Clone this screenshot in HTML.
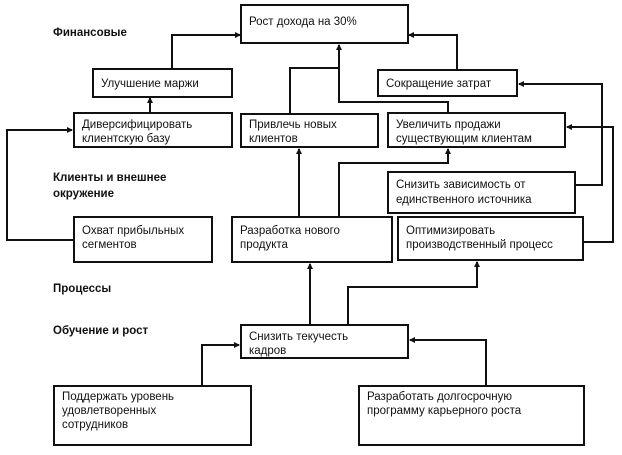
<!DOCTYPE html>
<html><head><meta charset="utf-8"><style>
html,body{margin:0;padding:0;background:#fff;}
svg{display:block}
text{font-family:"Liberation Sans","DejaVu Sans",sans-serif;font-size:11.5px;fill:#111;}
.b{font-weight:bold;}
rect{fill:#fff;stroke:#111;stroke-width:2;}
path{fill:none;stroke:#111;stroke-width:2;}
</style></head><body>
<svg width="622" height="455" viewBox="0 0 622 455">
<defs><marker id="a" markerWidth="6" markerHeight="6" refX="5" refY="3" orient="auto" markerUnits="userSpaceOnUse"><path d="M0,0 L6,3 L0,6 z" style="fill:#111;stroke:none"/></marker></defs>
<!-- connectors -->
<path d="M172,69 V35 H240" marker-end="url(#a)"/>
<path d="M457,70 V35 H409" marker-end="url(#a)"/>
<path d="M150,113 V98" marker-end="url(#a)"/>
<path d="M290,114 V68 H339 V45" marker-end="url(#a)"/>
<path d="M448,113 V102 H339 V68"/>
<path d="M74,240 H7 V130 H72" marker-end="url(#a)"/>
<path d="M299,217 V149" marker-end="url(#a)"/>
<path d="M339,217 V163 H448 V149" marker-end="url(#a)"/>
<path d="M575,185 H602 V84 H519" marker-end="url(#a)"/>
<path d="M583,242 H613 V127 H567" marker-end="url(#a)"/>
<path d="M310,325 V264" marker-end="url(#a)"/>
<path d="M348,325 V287 H477 V262" marker-end="url(#a)"/>
<path d="M202,386 V345 H239" marker-end="url(#a)"/>
<path d="M486,386 V340 H410" marker-end="url(#a)"/>
<!-- boxes -->
<rect x="241" y="5" width="167" height="38"/>
<rect x="93" y="69" width="139" height="28"/>
<rect x="378" y="70" width="139" height="26"/>
<rect x="74" y="113" width="158" height="34"/>
<rect x="241" y="114" width="137" height="33"/>
<rect x="388" y="113" width="177" height="34"/>
<rect x="388" y="172" width="187" height="41"/>
<rect x="74" y="217" width="138" height="45"/>
<rect x="232" y="217" width="160" height="45"/>
<rect x="398" y="217" width="185" height="43"/>
<rect x="241" y="325" width="167" height="33"/>
<rect x="54" y="386" width="197" height="59"/>
<rect x="359" y="386" width="225" height="59"/>
<!-- labels -->
<text class="b" x="53" y="36">Финансовые</text>
<text class="b" x="53" y="181">Клиенты и внешнее</text>
<text class="b" x="53" y="197">окружение</text>
<text class="b" x="53" y="292">Процессы</text>
<text class="b" x="53" y="334">Обучение и рост</text>
<text x="249" y="25">Рост дохода на 30%</text>
<text x="101" y="87">Улучшение маржи</text>
<text x="386" y="87">Сокращение затрат</text>
<text x="82" y="128">Диверсифицировать</text>
<text x="82" y="142">клиентскую базу</text>
<text x="249" y="128">Привлечь новых</text>
<text x="249" y="142">клиентов</text>
<text x="396" y="128">Увеличить продажи</text>
<text x="396" y="142">существующим клиентам</text>
<text x="396" y="188">Снизить зависимость от</text>
<text x="396" y="203">единственного источника</text>
<text x="82" y="234">Охват прибыльных</text>
<text x="82" y="248">сегментов</text>
<text x="240" y="234">Разработка нового</text>
<text x="240" y="248">продукта</text>
<text x="406" y="234">Оптимизировать</text>
<text x="406" y="248">производственный процесс</text>
<text x="249" y="340">Снизить текучесть</text>
<text x="249" y="354">кадров</text>
<text x="62" y="400">Поддержать уровень</text>
<text x="62" y="414">удовлетворенных</text>
<text x="62" y="428">сотрудников</text>
<text x="367" y="400">Разработать долгосрочную</text>
<text x="367" y="414">программу карьерного роста</text>
</svg>
</body></html>
